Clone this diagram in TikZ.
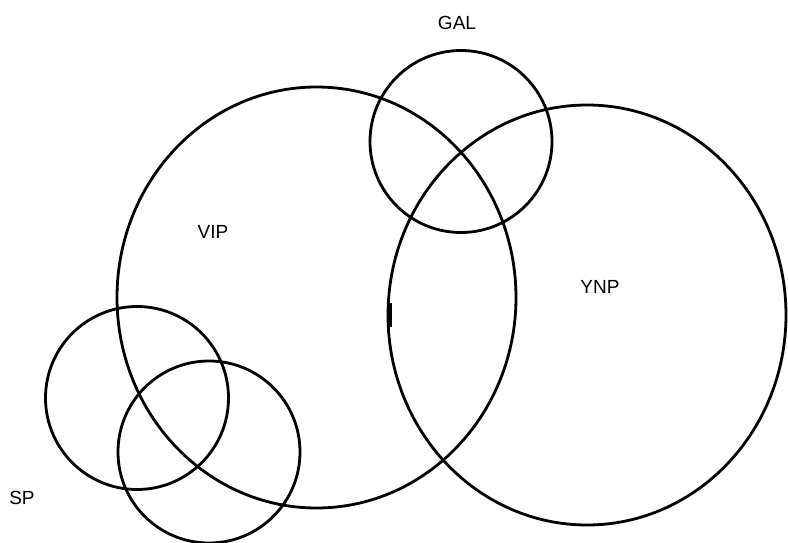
\documentclass[tikz,border=0pt]{standalone}
\usepackage{fontspec}
\setmainfont{Liberation Sans}
\begin{document}
\begin{tikzpicture}[x=1pt,y=-1pt,
  ring/.style={draw=black,line width=2.8pt},
  lbl/.style={font=\fontsize{19}{21}\selectfont,inner sep=0pt}]
\useasboundingbox (0,0) rectangle (788,543);
\draw[ring] (316.5,297.5) ellipse [x radius=199.5,y radius=210.5];
\draw[ring] (587,315) ellipse [x radius=199,y radius=210];
\draw[ring] (461,141.5) circle [radius=91];
\draw[ring] (137,398) circle [radius=91.5];
\draw[ring] (209,452) circle [radius=91];
\draw[line width=4.5pt] (389.5,303) -- (389.5,327);
\node[lbl] (gal) at (457,22.5) {GAL};
\node[lbl] (vip) at (213,232) {VIP};
\node[lbl] (ynp) at (600,287) {YNP};
\node[lbl] (sp) at (22,498) {SP};
\end{tikzpicture}
\end{document}
